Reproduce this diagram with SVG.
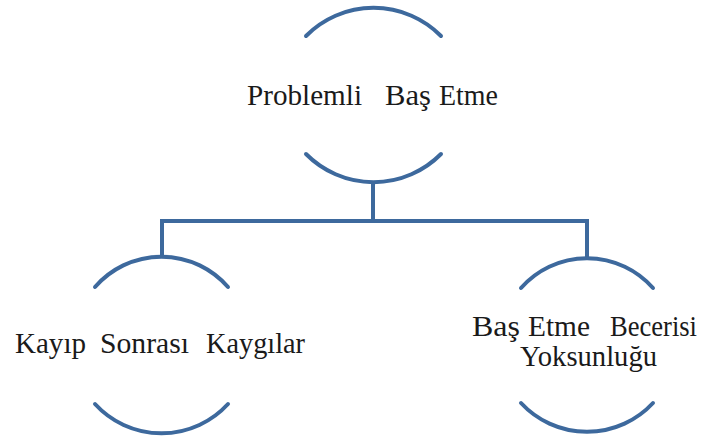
<svg xmlns="http://www.w3.org/2000/svg" width="706" height="441" viewBox="0 0 706 441">
<style>
.arc{fill:none;stroke:#3d699d;stroke-width:4;stroke-linecap:round}
.con{fill:none;stroke:#3d699d;stroke-width:4;stroke-linejoin:miter}
.lbl{font-family:"Liberation Serif","Times New Roman",serif;font-size:29px;fill:#1a1a1a}
</style>
<rect width="706" height="441" fill="#ffffff"/>
<g id="connectors">
<path class="con" d="M373,182 V221"/>
<path class="con" d="M162,257 V221 H587 V257"/>
</g>
<g id="node-top">
<path class="arc" d="M306,36 A95 95 0 0 1 441,36"/>
<path class="arc" d="M306,154 A95 95 0 0 0 441,154"/>
<text class="lbl" x="247" y="105" textLength="115" lengthAdjust="spacingAndGlyphs">Problemli</text>
<text class="lbl" x="385" y="105" textLength="46" lengthAdjust="spacingAndGlyphs">Baş</text>
<text class="lbl" x="439" y="105" textLength="59" lengthAdjust="spacingAndGlyphs">Etme</text>
</g>
<g id="node-left">
<path class="arc" d="M95,287 A88 88 0 0 1 228,287"/>
<path class="arc" d="M95,404 A90 90 0 0 0 228,404"/>
<text class="lbl" x="15" y="353" textLength="71" lengthAdjust="spacingAndGlyphs">Kayıp</text>
<text class="lbl" x="100" y="353" textLength="89" lengthAdjust="spacingAndGlyphs">Sonrası</text>
<text class="lbl" x="206" y="353" textLength="99" lengthAdjust="spacingAndGlyphs">Kaygılar</text>
</g>
<g id="node-right">
<path class="arc" d="M521,288 A88 88 0 0 1 653,288"/>
<path class="arc" d="M521,403 A90 90 0 0 0 653,403"/>
<text class="lbl" x="472" y="336" textLength="48" lengthAdjust="spacingAndGlyphs">Baş</text>
<text class="lbl" x="528" y="336" textLength="62" lengthAdjust="spacingAndGlyphs">Etme</text>
<text class="lbl" x="610" y="336" textLength="87" lengthAdjust="spacingAndGlyphs">Becerisi</text>
<text class="lbl" x="520" y="366" textLength="137" lengthAdjust="spacingAndGlyphs">Yoksunluğu</text>
</g>
</svg>
